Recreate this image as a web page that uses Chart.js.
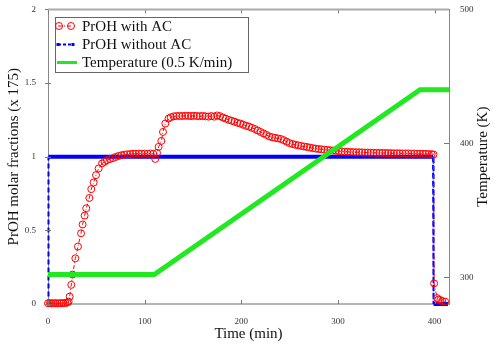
<!DOCTYPE html>
<html lang="en">
<head>
    <meta charset="UTF-8">
    <title>PrOH molar fractions vs time</title>
    <script src="https://cdn.jsdelivr.net/npm/chart.js"></script>
    <style>
        body {
            margin: 0;
            background-color: #ffffff;
        }

        .chart-box {
            width: 500px;
            height: 354px;
        }
    </style>
</head>
<body>
    <div class="chart-box">
        <canvas id="prohChart"></canvas>
    </div>

    <script>
        // Values
        const xTicks = [0, 100, 200, 300, 400];
        const yTicks = [0, 0.5, 1, 1.5, 2];
        const tempTicks = [300, 400, 500];

        // PrOH with AC (time in min, fraction x 175)
        const withAcTime = [0, 2, 4, 6, 8, 10, 12, 14, 16, 18, 20, 21.3, 22.4, 24.1, 25.5, 28.3, 31, 34.2, 35.8, 37.9,
            39.6, 42.8, 44.8, 47.2, 49.7, 52.4, 55.9, 58.5, 61, 64, 67, 70, 73, 76, 79, 82, 85, 88, 91, 94,
            97, 100, 103, 106, 109, 111, 112.8, 114.5, 117.3, 119, 121.4, 124.8, 127, 130, 133, 136, 139, 142, 145, 148,
            151, 154, 157, 160, 163, 166, 169, 172, 175, 178, 181, 184, 187, 190, 193, 196, 199, 202, 205, 208,
            211, 214, 217, 220, 223, 226, 229, 232, 235, 238, 241, 244, 247, 250, 253, 256, 259, 262, 265, 268,
            271, 274, 277, 280, 283, 286, 289, 292, 295, 298, 301, 304, 307, 310, 313, 316, 319, 322, 325, 328,
            331, 334, 337, 340, 343, 346, 349, 352, 355, 358, 361, 364, 367, 370, 373, 376, 379, 382, 385, 388,
            391, 394, 397, 399, 399.6, 402.7, 404, 406, 408, 411];
        const withAcValue = [0.005, 0.006, 0.004, 0.006, 0.005, 0.004, 0.006, 0.005, 0.007, 0.006, 0.01, 0.016, 0.05, 0.13, 0.2, 0.31, 0.39, 0.48, 0.54, 0.6,
            0.65, 0.72, 0.78, 0.825, 0.875, 0.92, 0.954, 0.965, 0.976, 0.984, 0.99, 0.998, 1.005, 1.01, 1.014, 1.016, 1.018, 1.02, 1.02, 1.021,
            1.02, 1.021, 1.02, 1.022, 1.02, 0.985, 1.026, 1.067, 1.107, 1.168, 1.225, 1.259, 1.268, 1.274, 1.276, 1.277, 1.276, 1.278, 1.277, 1.276,
            1.278, 1.276, 1.275, 1.277, 1.274, 1.272, 1.276, 1.272, 1.28, 1.275, 1.266, 1.258, 1.25, 1.244, 1.238, 1.23, 1.225, 1.217, 1.21, 1.204,
            1.196, 1.188, 1.178, 1.168, 1.158, 1.148, 1.138, 1.132, 1.128, 1.124, 1.12, 1.112, 1.102, 1.092, 1.086, 1.081, 1.077, 1.073, 1.069, 1.066,
            1.062, 1.058, 1.055, 1.052, 1.05, 1.048, 1.046, 1.044, 1.042, 1.04, 1.038, 1.036, 1.034, 1.033, 1.032, 1.031, 1.03, 1.03, 1.029, 1.028,
            1.028, 1.027, 1.027, 1.026, 1.026, 1.025, 1.025, 1.024, 1.024, 1.023, 1.023, 1.023, 1.022, 1.022, 1.022, 1.021, 1.021, 1.02, 1.02, 1.019,
            1.019, 1.018, 1.017, 1.015, 0.14, 0.04, 0.03, 0.027, 0.02, 0.016];

        // PrOH without AC
        const withoutAcTime = [0, 0.5, 398.5, 399, 414];
        const withoutAcValue = [0, 1, 1, 0, 0];

        // Temperature (K), right axis
        const tempTime = [0, 110, 385, 415];
        const tempValue = [302, 302, 440, 440];

        const toPoints = (xs, ys) => xs.map((x, i) => ({ x: x, y: ys[i] }));

        const serif = '"Liberation Serif", "Times New Roman", serif';
        const tickFont = { family: serif, size: 9 };
        const titleFont = { family: serif, size: 15 };

        // inward tick marks, top border, right title and the boxed legend
        const decorations = {
            id: 'decorations',
            afterDraw(chart) {
                const { ctx, chartArea: a, scales } = chart;
                ctx.save();
                ctx.strokeStyle = '#777';
                ctx.lineWidth = 1;
                ctx.beginPath();
                xTicks.forEach(v => {
                    const px = Math.round(scales.x.getPixelForValue(v)) + 0.5;
                    ctx.moveTo(px, a.bottom); ctx.lineTo(px, a.bottom - 4);
                    ctx.moveTo(px, a.top); ctx.lineTo(px, a.top + 4);
                });
                yTicks.forEach(v => {
                    const py = Math.round(scales.y.getPixelForValue(v)) + 0.5;
                    ctx.moveTo(a.left - 3, py); ctx.lineTo(a.left + 3, py);
                });
                tempTicks.forEach(v => {
                    const py = Math.round(scales.y2.getPixelForValue(v)) + 0.5;
                    ctx.moveTo(a.right, py); ctx.lineTo(a.right - 5, py);
                });
                ctx.stroke();

                ctx.strokeStyle = '#aaa';
                ctx.lineWidth = 2;
                ctx.beginPath();
                ctx.moveTo(a.left, a.top); ctx.lineTo(a.right, a.top);
                ctx.stroke();

                // right axis title reads bottom to top, like the left one
                ctx.fillStyle = '#111';
                ctx.font = '15px ' + serif;
                ctx.textAlign = 'center';
                ctx.textBaseline = 'middle';
                ctx.translate(483, (a.top + a.bottom) / 2);
                ctx.rotate(-Math.PI / 2);
                ctx.fillText('Temperature (K)', 0, 0);
                ctx.restore();

                // legend
                ctx.save();
                ctx.fillStyle = '#fff';
                ctx.fillRect(55.5, 17.5, 193, 55);
                ctx.strokeStyle = '#666';
                ctx.lineWidth = 1;
                ctx.strokeRect(55.5, 17.5, 193, 55);

                const rows = [26, 44.5, 62.5];
                // red
                ctx.strokeStyle = 'red';
                ctx.setLineDash([4, 2, 1, 2]);
                ctx.beginPath(); ctx.moveTo(58, rows[0]); ctx.lineTo(72, rows[0]); ctx.stroke();
                ctx.setLineDash([]);
                [59, 71].forEach(cx => {
                    ctx.beginPath(); ctx.arc(cx, rows[0], 3.5, 0, Math.PI * 2); ctx.stroke();
                });
                // blue
                ctx.strokeStyle = '#0000ff';
                ctx.lineWidth = 2;
                ctx.setLineDash([3, 2]);
                ctx.beginPath(); ctx.moveTo(58, rows[1]); ctx.lineTo(74, rows[1]); ctx.stroke();
                ctx.setLineDash([]);
                ctx.fillStyle = '#0000ff';
                [58, 73].forEach(cx => ctx.fillRect(cx - 1.5, rows[1] - 1.5, 3, 3));
                // green
                ctx.strokeStyle = '#22e822';
                ctx.lineWidth = 3;
                ctx.beginPath(); ctx.moveTo(57, rows[2]); ctx.lineTo(77, rows[2]); ctx.stroke();

                ctx.fillStyle = '#111';
                ctx.font = '15px ' + serif;
                ctx.textAlign = 'left';
                ctx.textBaseline = 'middle';
                ctx.fillText('PrOH with AC', 82, rows[0] + 1);
                ctx.fillText('PrOH without AC', 82, rows[1] + 1);
                ctx.fillText('Temperature (0.5 K/min)', 82, rows[2] + 1);
                ctx.restore();
            }
        };

        const isVertical = c => Math.abs(c.p1.parsed.x - c.p0.parsed.x) < 1;

        const ctx = document.getElementById('prohChart').getContext('2d');
        new Chart(ctx, {
            type: 'line',
            data: {
                datasets: [
                    {
                        label: 'Temperature (0.5 K/min)',
                        data: toPoints(tempTime, tempValue),
                        yAxisID: 'y2',
                        borderColor: '#22e822',
                        borderWidth: 5,
                        pointRadius: 0,
                        clip: false,
                        order: 0
                    },
                    {
                        label: 'PrOH with AC',
                        data: toPoints(withAcTime, withAcValue),
                        yAxisID: 'y',
                        borderColor: 'red',
                        borderWidth: 1,
                        borderDash: [4, 2, 1, 2],
                        pointStyle: 'circle',
                        pointRadius: 3.5,
                        pointBorderColor: 'red',
                        pointBackgroundColor: 'rgba(255,255,255,0)',
                        pointBorderWidth: 1,
                        clip: false,
                        order: 1
                    },
                    {
                        label: 'PrOH without AC',
                        data: toPoints(withoutAcTime, withoutAcValue),
                        yAxisID: 'y',
                        borderColor: '#0000ff',
                        borderWidth: 4,
                        pointRadius: 0,
                        segment: {
                            borderDash: c => isVertical(c) ? [5, 3] : undefined,
                            borderWidth: c => isVertical(c) ? 2 : undefined
                        },
                        clip: false,
                        order: 2
                    }
                ]
            },
            options: {
                responsive: true,
                maintainAspectRatio: false,
                animation: false,
                layout: { padding: { top: 9 } },
                plugins: {
                    legend: { display: false },
                    tooltip: { enabled: false }
                },
                scales: {
                    x: {
                        type: 'linear',
                        min: 0,
                        max: 415,
                        afterBuildTicks: s => { s.ticks = xTicks.map(v => ({ value: v })); },
                        afterFit: s => { s.height = 50; },
                        grid: { display: false },
                        border: { display: true, color: '#b4b4b4', width: 2 },
                        ticks: { font: tickFont, color: '#333', padding: 4, maxRotation: 0, callback: v => String(v) },
                        title: { display: true, text: 'Time (min)', font: titleFont, color: '#111', padding: { bottom: 11 } }
                    },
                    y: {
                        position: 'left',
                        min: 0,
                        max: 2,
                        afterBuildTicks: s => { s.ticks = yTicks.map(v => ({ value: v })); },
                        afterFit: s => { s.width = 48; },
                        grid: { display: false },
                        border: { display: true, color: '#888', width: 1 },
                        ticks: { font: tickFont, color: '#333', padding: 4, callback: v => String(v) },
                        title: { display: true, text: 'PrOH molar fractions (x 175)', font: titleFont, color: '#111', padding: { top: 5 } }
                    },
                    y2: {
                        position: 'right',
                        min: 280,
                        max: 500,
                        afterBuildTicks: s => { s.ticks = tempTicks.map(v => ({ value: v })); },
                        afterFit: s => { s.width = 51; },
                        grid: { display: false },
                        border: { display: true, color: '#888', width: 1 },
                        ticks: { font: tickFont, color: '#333', padding: 3, callback: v => String(v) }
                    }
                }
            },
            plugins: [decorations]
        });
    </script>
</body>
</html>
